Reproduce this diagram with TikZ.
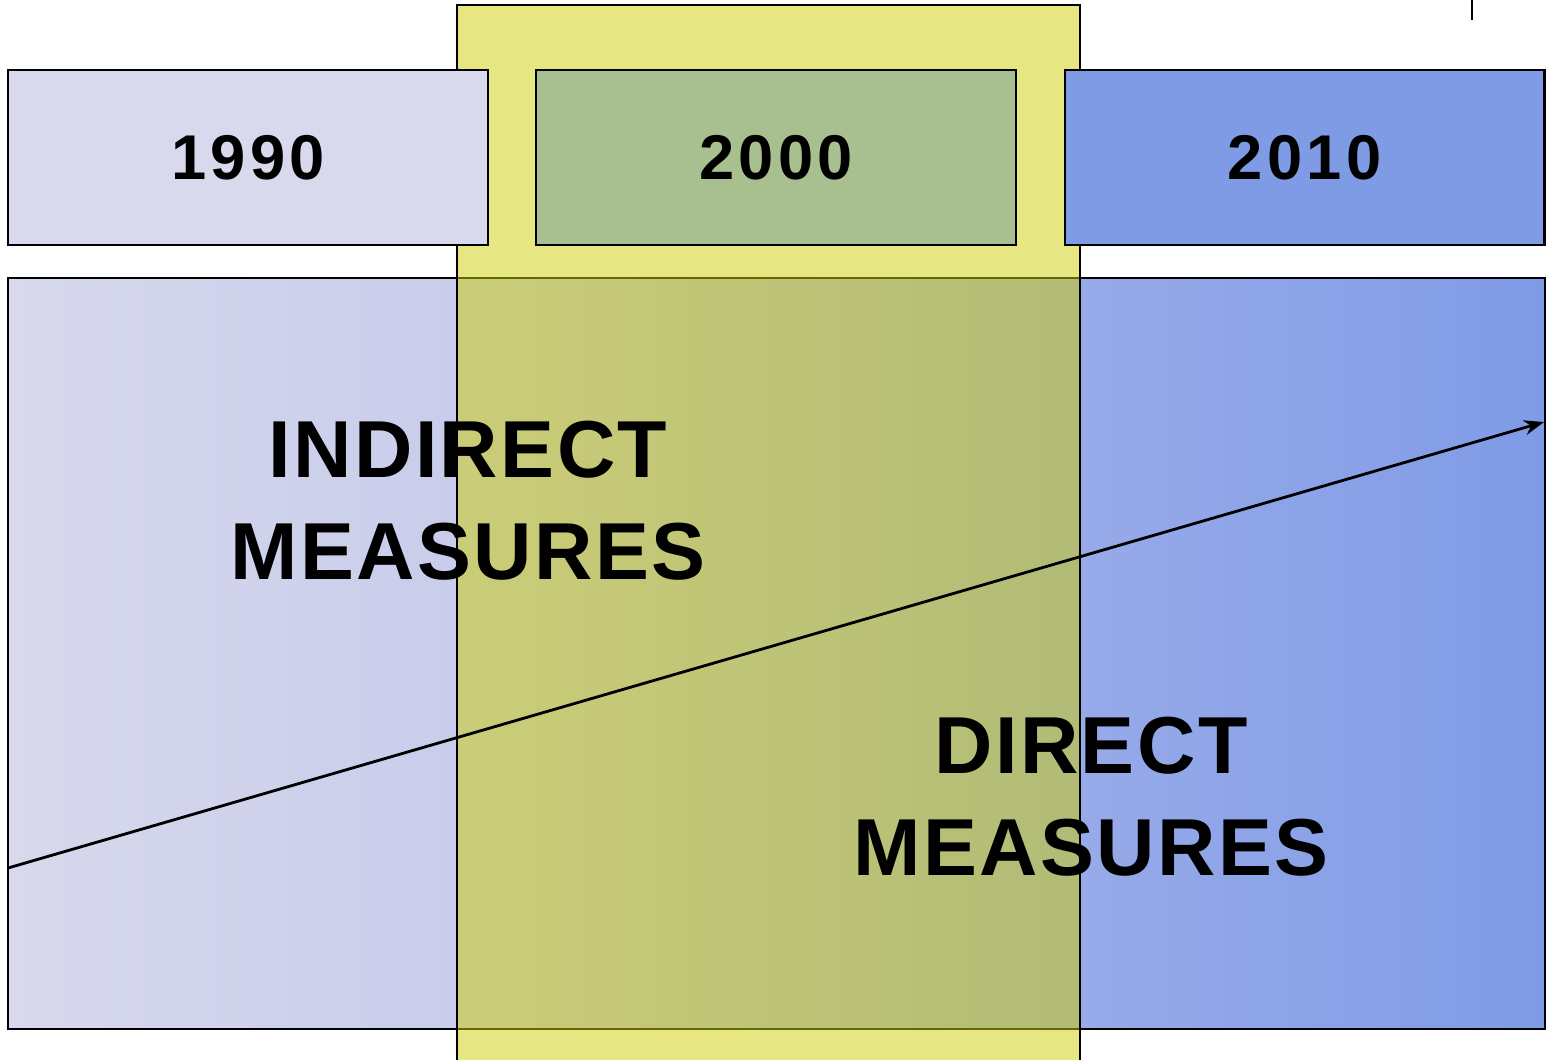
\documentclass[tikz,border=0pt]{standalone}
\usepackage{fontspec}
\setmainfont{Liberation Sans}
\usetikzlibrary{arrows.meta}
\definecolor{lavender}{RGB}{216,217,236}
\definecolor{olivegreen}{RGB}{168,192,144}
\definecolor{skyblue}{RGB}{127,155,230}
\definecolor{marker}{RGB}{205,205,5}
\pgfdeclarehorizontalshading{measshade}{100bp}{%
  rgb(0bp)=(0.847,0.851,0.925); rgb(25bp)=(0.847,0.851,0.925);
  rgb(39.5bp)=(0.788,0.804,0.922); rgb(60bp)=(0.592,0.667,0.914);
  rgb(75bp)=(0.498,0.608,0.902); rgb(100bp)=(0.498,0.608,0.902)}

\begin{document}
\begin{tikzpicture}[x=0.02cm,y=-0.02cm,
    yearbox/.style={draw=black,line width=1.2pt,minimum width=9.6cm,minimum height=3.5cm,
      inner sep=0pt,font=\bfseries\fontsize{36}{40}\selectfont\addfontfeature{LetterSpace=7}},
    measlabel/.style={align=center,font=\bfseries\fontsize{46}{58}\selectfont\addfontfeature{LetterSpace=3}}]
    \useasboundingbox (0,0) rectangle (1546,1059);
    % Definitions
    \coordinate (trendstart) at (8,868);
    \coordinate (trendend)   at (1544,422);
    \coordinate (ticktop)    at (1472,0);
    \coordinate (tickbot)    at (1472,20);
    % Measures area
    \node[draw=black,line width=1.2pt,shading=measshade,minimum width=30.74cm,minimum height=15.02cm,
      inner sep=0pt] (measbox) at (776.5,653.5) {};
    % Decade 2000 highlight
    \draw[fill=marker,fill opacity=0.5,line width=1.2pt] (457,1075) rectangle (1080,5);
    % Years
    \node[yearbox,fill=lavender]  (y1990) at (248,157.5)    {1990};
    \node[yearbox,fill=olivegreen] (y2000) at (776,157.5)    {2000};
    \node[yearbox,fill=skyblue]   (y2010) at (1304.5,157.5) {2010};
    % Labels
    \node[measlabel] (indirect) at (468,501) {INDIRECT\\MEASURES};
    \node[measlabel] (direct)   at (1091,797) {DIRECT\\MEASURES};
    % Trend
    \draw[-{Stealth[length=0.4cm,width=0.3cm]},line width=1.6pt] (trendstart) -- (trendend);
    \draw[line width=1.2pt] (ticktop) -- (tickbot);
\end{tikzpicture}
\end{document}
